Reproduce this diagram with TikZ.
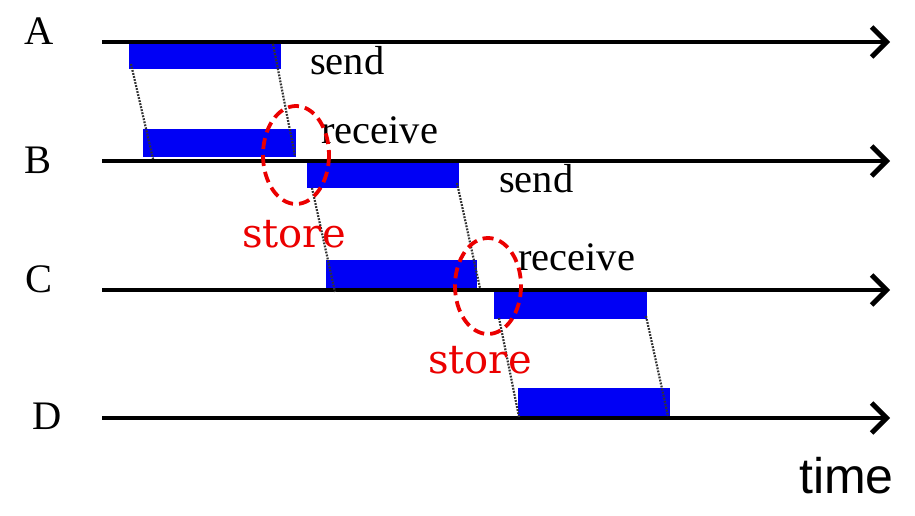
\documentclass[tikz,border=0pt]{standalone}
\usepackage{fontspec}
\setmainfont{Liberation Serif}
\newfontfamily\sansf{Liberation Sans}
\newfontfamily\storef{DejaVu Serif}
\usetikzlibrary{arrows.meta}
\definecolor{barblue}{RGB}{0,0,245}
\definecolor{storered}{RGB}{235,0,0}
\begin{document}
\begin{tikzpicture}[x=1pt,y=-1pt,
  timeline/.style={line width=4.8pt,-{Straight Barb[length=15pt,width=30pt,line width=4.8pt]}},
  bar/.style={fill=barblue,draw=none},
  msg/.style={draw=black!80,line width=2.2pt,dash pattern=on 1.8pt off 1.3pt},
  storering/.style={draw=storered,dash pattern=on 11pt off 6pt,line width=3.8pt},
  lbl/.style={font=\fontsize{40.5}{42}\selectfont,anchor=base west,inner sep=0pt},
  storelbl/.style={font=\storef\fontsize{40}{42}\selectfont,text=storered,anchor=base west,inner sep=0pt},
]
\useasboundingbox (0,0) rectangle (915,516);
% process labels
\node[lbl] (lA) at (24,45) {A};
\node[lbl] (lB) at (24,173) {B};
\node[lbl] (lC) at (25,292) {C};
\node[lbl] (lD) at (32,429) {D};
% time lines
\coordinate (As) at (102,42); \coordinate (Ae) at (890,42);
\coordinate (Bs) at (102,161); \coordinate (Be) at (890,161);
\coordinate (Cs) at (102,290); \coordinate (Ce) at (890,290);
\coordinate (Ds) at (102,418); \coordinate (De) at (890,418);
% bars
\fill[bar] (129,42) rectangle (281,69);
\fill[bar] (143,129) rectangle (296,157);
\fill[bar] (307,162) rectangle (459,188);
\fill[bar] (326,260) rectangle (477,289);
\fill[bar] (494,291) rectangle (647,319);
\fill[bar] (518,388) rectangle (670,417);
\draw[timeline] (As) -- (Ae);
\draw[timeline] (Bs) -- (Be);
\draw[timeline] (Cs) -- (Ce);
\draw[timeline] (Ds) -- (De);
% message lines
\coordinate (m1a) at (131,64); \coordinate (m1b) at (153,159);
\coordinate (m2a) at (273,44); \coordinate (m2b) at (295,156);
\coordinate (m3a) at (312,188); \coordinate (m3b) at (335,292);
\coordinate (m4a) at (457,183); \coordinate (m4b) at (480,288);
\coordinate (m5a) at (499,318); \coordinate (m5b) at (519,417);
\coordinate (m6a) at (646,316); \coordinate (m6b) at (668,416);
\draw[msg] (m1a) -- (m1b);
\draw[msg] (m2a) -- (m2b);
\draw[msg] (m3a) -- (m3b);
\draw[msg] (m4a) -- (m4b);
\draw[msg] (m5a) -- (m5b);
\draw[msg] (m6a) -- (m6b);
% labels
\node[lbl] (s1) at (310,75) {send};
\node[lbl] (r1) at (321,143) {receive};
\node[lbl] (s2) at (499,192) {send};
\node[lbl] (r2) at (518,270) {receive};
% store rings
\draw[storering] (296,155) ellipse [x radius=33, y radius=49];
\draw[storering] (488,286) ellipse [x radius=33, y radius=48];
\node[storelbl] (st1) at (242,247) {store};
\node[storelbl] (st2) at (428,373) {store};
\node[font=\sansf\fontsize{50}{52}\selectfont,anchor=base west,inner sep=0pt] (time) at (799,493) {time};
\end{tikzpicture}
\end{document}
